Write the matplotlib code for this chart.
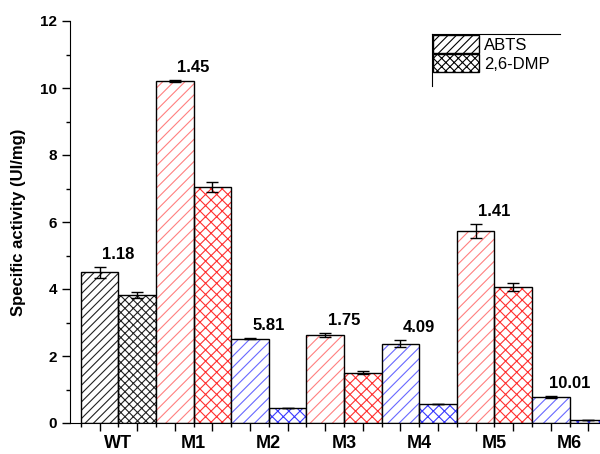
import numpy as np
import matplotlib.pyplot as plt
from matplotlib.lines import Line2D
from matplotlib.patches import Patch

plt.rcParams['font.family'] = ['Liberation Sans', 'DejaVu Sans']
plt.rcParams['hatch.linewidth'] = 0.8

groups = ['WT', 'M1', 'M2', 'M3', 'M4', 'M5', 'M6']
abts = [4.50, 10.21, 2.52, 2.63, 2.37, 5.73, 0.78]
abts_err = [0.16, 0.02, 0.02, 0.05, 0.10, 0.20, 0.02]
dmp = [3.82, 7.05, 0.434, 1.50, 0.58, 4.07, 0.078]
dmp_err = [0.10, 0.15, 0.0, 0.05, 0.0, 0.12, 0.0]
ratio = ['1.18', '1.45', '5.81', '1.75', '4.09', '1.41', '10.01']
group_color = ['black', 'red', 'blue', 'red', 'blue', 'red', 'blue']

hatch_light = {'black': '#222222', 'red': '#ff8080', 'blue': '#6868ff'}
hatch_dark = {'black': '#222222', 'red': '#ff3030', 'blue': '#3a3aff'}
hatch_a = {'black': '////', 'red': '///', 'blue': '///'}
hatch_d = {'black': 'xxxx', 'red': 'xxx', 'blue': 'xxx'}

fig = plt.figure(figsize=(6, 4.54), dpi=100)
ax = fig.add_axes([70 / 600, 31 / 454, 541 / 600, 402 / 454])

pos_a = np.arange(len(groups)) * 2
pos_d = pos_a + 1
for i, c in enumerate(group_color):
    # hatch layer, then black outline on top
    ax.bar(pos_a[i], abts[i], width=1, color='white', edgecolor=hatch_light[c],
           hatch=hatch_a[c], linewidth=0)
    ax.bar(pos_d[i], dmp[i], width=1, color='white', edgecolor=hatch_dark[c],
           hatch=hatch_d[c], linewidth=0)
    ax.bar([pos_a[i], pos_d[i]], [abts[i], dmp[i]], width=1, fill=False,
           edgecolor='black', linewidth=1)

ax.errorbar(pos_a, abts, yerr=abts_err, fmt='none', ecolor='black',
            elinewidth=1, capsize=4, capthick=1)
ax.errorbar(pos_d, dmp, yerr=dmp_err, fmt='none', ecolor='black',
            elinewidth=1, capsize=4, capthick=1)

for i in range(len(groups)):
    ax.text(pos_a[i] + 0.5, abts[i] + abts_err[i] + 0.15, ratio[i],
            ha='center', va='bottom', fontsize=12, fontweight='bold')

ax.set_xlim(-0.785, 13.6)
ax.set_ylim(0, 12)
ax.spines['top'].set_visible(False)
ax.spines['right'].set_visible(False)

ax.set_xticks(np.arange(0, 14))
ax.set_xticks(np.arange(-0.5, 14, 1), minor=True)
ax.set_xticklabels([])
ax.tick_params(axis='x', which='major', direction='out', length=6, width=1)
ax.tick_params(axis='x', which='minor', direction='out', length=3, width=1)
for i, g in enumerate(groups):
    ax.text(pos_a[i] + 0.5, -0.36, g, ha='center', va='top', fontsize=13,
            fontweight='bold')

ax.set_yticks(np.arange(0, 13, 2))
ax.set_yticks(np.arange(0, 13, 1), minor=True)
ax.tick_params(axis='y', which='major', direction='out', length=6, width=1,
               labelsize=11)
ax.tick_params(axis='y', which='minor', direction='out', length=3, width=1)
for lbl in ax.get_yticklabels():
    lbl.set_fontweight('bold')
ax.set_ylabel('Specific activity (UI/mg)', fontsize=12, fontweight='bold',
              labelpad=10)

handles = [Patch(facecolor='white', edgecolor='black', hatch='////', label='ABTS'),
           Patch(facecolor='white', edgecolor='black', hatch='xxxx', label='2,6-DMP')]
ax.legend(handles=handles, loc='upper left', frameon=False, fontsize=12,
          bbox_to_anchor=(433 / 600, 1 - 35 / 454), bbox_transform=fig.transFigure,
          borderpad=0, borderaxespad=0, handlelength=2.75, handleheight=1.3,
          labelspacing=0.05, handletextpad=0.3)
fig.add_artist(Line2D([432 / 600, 560 / 600], [1 - 34 / 454, 1 - 34 / 454],
                      color='black', linewidth=0.8, transform=fig.transFigure))
fig.add_artist(Line2D([432 / 600, 432 / 600], [1 - 34 / 454, 1 - 86 / 454],
                      color='black', linewidth=0.8, transform=fig.transFigure))

fig.savefig('out.png', dpi=100)
